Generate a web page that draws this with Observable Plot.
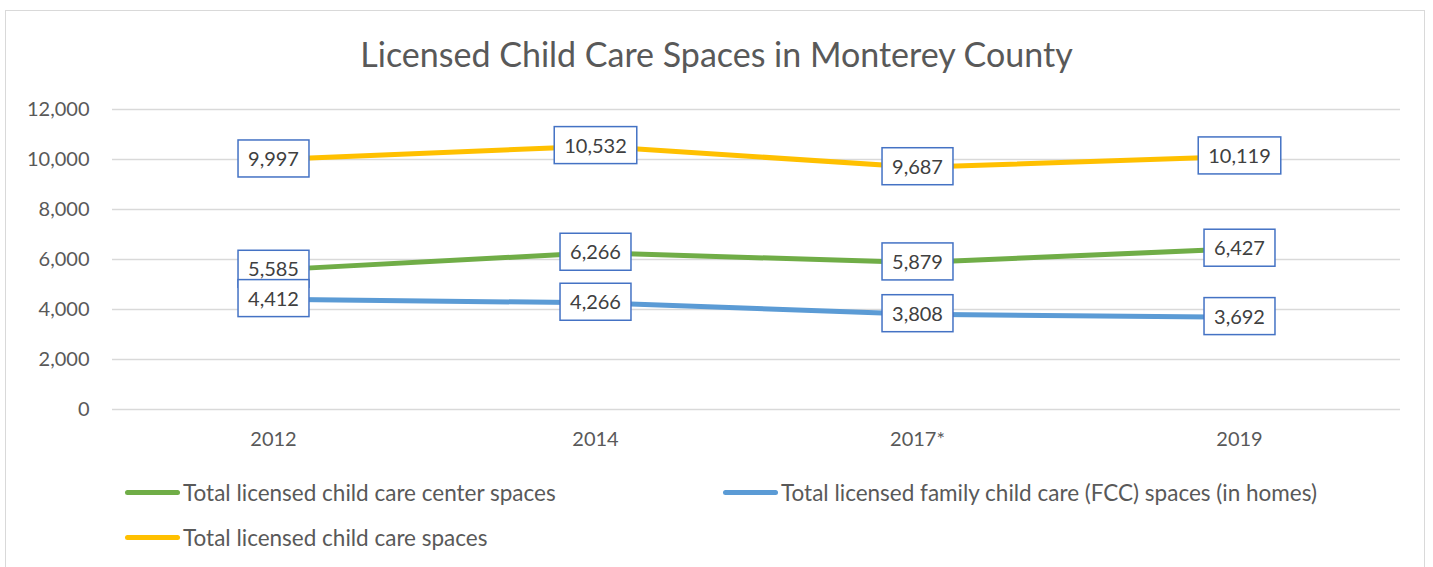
<!DOCTYPE html>
<html>
<head>
<meta charset="utf-8">
<script src="https://cdn.jsdelivr.net/npm/d3@7"></script>
<script src="https://cdn.jsdelivr.net/npm/@observablehq/plot@0.6"></script>
<style>
  html, body { margin: 0; padding: 0; background: #fff; overflow: hidden; }
  #wrap { position: relative; width: 1433px; height: 567px; font-family: Lato, "Open Sans", sans-serif; }
  #frame { position: absolute; left: 5px; top: 10px; width: 1420px; height: 620px; border: 1.5px solid #d9d9d9; box-sizing: border-box; }
  #chart { position: absolute; left: 0; top: 0; }
  #title { position: absolute; left: 0; top: 34px; width: 1433px; text-align: center; font-size: 34px; line-height: 1.2; color: #595959; }
  .leg { position: absolute; display: flex; align-items: center; font-size: 22.5px; color: #595959; white-space: nowrap; height: 24px; }
  .sw { width: 55px; height: 5px; border-radius: 3px; margin-right: 3px; }
</style>
</head>
<body>
<div id="wrap">
  <div id="frame"></div>
  <div id="chart"></div>
  <div id="title">Licensed Child Care Spaces in Monterey County</div>
  <div id="legend"></div>
</div>
<script>
const years = ["2012", "2014", "2017*", "2019"];
const centerSpaces = [5585, 6266, 5879, 6427];
const fccSpaces = [4412, 4266, 3808, 3692];
const totalSpaces = [9997, 10532, 9687, 10119];
const seriesNames = [
  "Total licensed child care center spaces",
  "Total licensed family child care (FCC) spaces (in homes)",
  "Total licensed child care spaces"
];
const seriesColors = ["#70AD47", "#5B9BD5", "#FFC000"];
const yTicks = [0, 2000, 4000, 6000, 8000, 10000, 12000];

const seriesValues = [centerSpaces, fccSpaces, totalSpaces];
const rows = [];
seriesNames.forEach((s, si) => {
  years.forEach((yr, i) => rows.push({series: s, year: yr, value: seriesValues[si][i]}));
});
const fmt = d3.format(",");
const labelSet = new Set(rows.map(d => fmt(d.value)));

const chart = Plot.plot({
  width: 1433,
  height: 567,
  marginTop: 109,
  marginBottom: 158,
  marginLeft: 112,
  marginRight: 33,
  style: {fontFamily: "Lato, 'Open Sans', sans-serif", fontSize: "20px", color: "#595959", background: "transparent", overflow: "visible"},
  x: {type: "point", domain: years, padding: 0.5, label: null},
  y: {domain: [0, 12000], label: null},
  color: {domain: seriesNames, range: seriesColors},
  marks: [
    Plot.gridY(yTicks, {stroke: "#d9d9d9", strokeOpacity: 1, strokeWidth: 1.5}),
    Plot.axisY(yTicks, {tickSize: 0, tickPadding: 23, tickFormat: fmt, fill: "#595959", fontSize: 20, label: null}),
    Plot.axisX({tickSize: 0, tickPadding: 22, fill: "#595959", fontSize: 20, label: null}),
    Plot.line(rows, {x: "year", y: "value", z: "series", stroke: "series", strokeWidth: 5, strokeLinecap: "round", strokeLinejoin: "round"}),
    Plot.text(rows, {x: "year", y: "value", text: d => fmt(d.value), fill: "#404040", fontSize: 20})
  ]
});
document.getElementById("chart").appendChild(chart);

// boxes behind the value labels
const NS = "http://www.w3.org/2000/svg";
Array.from(chart.querySelectorAll("text"))
  .filter(t => labelSet.has(t.textContent.trim()))
  .forEach(t => {
    const b = t.getBBox();
    const cy = b.y + b.height / 2 + 0.5;
    const r = document.createElementNS(NS, "rect");
    r.setAttribute("x", b.x - 10);
    r.setAttribute("y", cy - 18.5);
    r.setAttribute("width", b.width + 20);
    r.setAttribute("height", 37);
    r.setAttribute("fill", "#ffffff");
    r.setAttribute("stroke", "#4472C4");
    r.setAttribute("stroke-width", 1.5);
    const tr = t.getAttribute("transform");
    if (tr) r.setAttribute("transform", tr);
    t.parentNode.insertBefore(r, t);
  });

// legend
const legendPos = [
  {left: 125, top: 480},
  {left: 723, top: 480},
  {left: 125, top: 525}
];
const leg = document.getElementById("legend");
seriesNames.forEach((s, i) => {
  const d = document.createElement("div");
  d.className = "leg";
  d.style.left = legendPos[i].left + "px";
  d.style.top = legendPos[i].top + "px";
  const sw = document.createElement("div");
  sw.className = "sw";
  sw.style.background = seriesColors[i];
  const tx = document.createElement("span");
  tx.textContent = s;
  d.appendChild(sw);
  d.appendChild(tx);
  leg.appendChild(d);
});
</script>
</body>
</html>
